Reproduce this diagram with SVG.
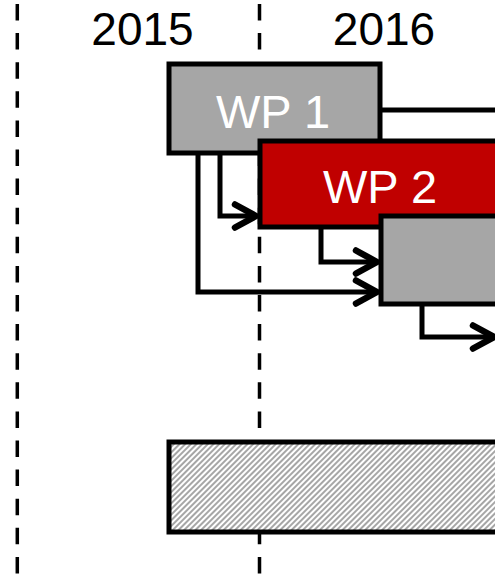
<svg xmlns="http://www.w3.org/2000/svg" width="495" height="574" viewBox="0 0 495 574">
<style>
.dash{stroke:#000;stroke-width:3.5;fill:none;stroke-dasharray:16.5 12.6}
.conn{stroke:#000;stroke-width:5;fill:none;stroke-linejoin:miter}
.box{stroke:#000;stroke-width:5}
.grey{fill:#a6a6a6}
.red{fill:#c00000}
.lbl{font-family:"Liberation Sans",Arial,sans-serif;font-size:47px;fill:#fff;text-anchor:middle}
.year{font-family:"Liberation Sans",Arial,sans-serif;font-size:46px;fill:#000;text-anchor:middle}
</style>
<defs>
<marker id="arr" markerUnits="userSpaceOnUse" viewBox="-24 -14 28 28" refX="0" refY="0" markerWidth="28" markerHeight="28" orient="auto" overflow="visible">
<path d="M-21,-11.5 L0,0 L-21,11.5" fill="none" stroke="#000" stroke-width="6.5" stroke-linecap="round" stroke-linejoin="round"/>
</marker>
<pattern id="hatch" patternUnits="userSpaceOnUse" width="4" height="4" patternTransform="rotate(45)">
<rect width="4" height="4" fill="#fff"/>
<rect width="2" height="4" fill="#a6a6a6"/>
</pattern>
</defs>
<g id="gridlines">
<line class="dash" x1="17.3" y1="4" x2="17.3" y2="574"/>
<line class="dash" x1="259.5" y1="4" x2="259.5" y2="574"/>
</g>
<g id="years">
<text class="year" x="142.5" y="45">2015</text>
<text class="year" x="384" y="45">2016</text>
</g>
<g id="connectors">
<path class="conn" d="M380,110 H497"/>
<path class="conn" d="M220,153 V216 H256" marker-end="url(#arr)"/>
<path class="conn" d="M198,153 V292 H377" marker-end="url(#arr)"/>
<path class="conn" d="M321,227 V262 H377" marker-end="url(#arr)"/>
<path class="conn" d="M422,304 V337 H494" marker-end="url(#arr)"/>
</g>
<g id="wp1">
<rect class="box grey" x="169" y="64" width="211" height="89"/>
<text class="lbl" x="273" y="128">WP 1</text>
</g>
<g id="wp2">
<rect class="box red" x="260" y="141" width="260" height="86"/>
<text class="lbl" x="380" y="203">WP 2</text>
</g>
<g id="wp3">
<rect class="box grey" x="381" y="216" width="140" height="88"/>
</g>
<g id="hatched">
<rect class="box" fill="url(#hatch)" x="169" y="442" width="352" height="90"/>
</g>
</svg>
